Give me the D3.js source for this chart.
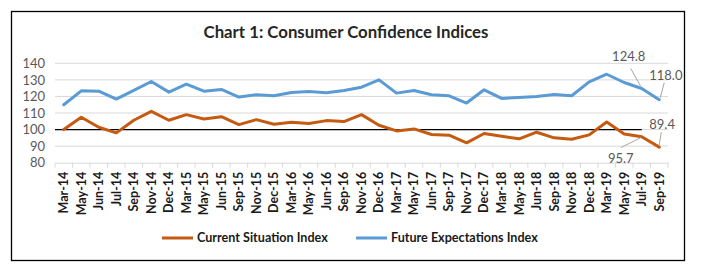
<!DOCTYPE html>
<html>
<head>
<meta charset="utf-8">
<script src="https://cdn.jsdelivr.net/npm/d3@7"></script>
<style>
  body { margin: 0; background: #fff; }
</style>
</head>
<body>
<svg id="chart"></svg>
<script>
var months = ["Mar-14", "May-14", "Jun-14", "Jul-14", "Sep-14", "Nov-14", "Dec-14",
              "Mar-15", "May-15", "Jun-15", "Sep-15", "Nov-15", "Dec-15",
              "Mar-16", "May-16", "Jun-16", "Sep-16", "Nov-16", "Dec-16",
              "Mar-17", "May-17", "Jun-17", "Sep-17", "Nov-17", "Dec-17",
              "Mar-18", "May-18", "Jun-18", "Sep-18", "Nov-18", "Dec-18",
              "Mar-19", "May-19", "Jul-19", "Sep-19"];
var current_index = [100.0, 107.4, 101.4, 98.0, 105.6, 111.0, 105.6,
                     109.0, 106.4, 107.8, 103.0, 106.0, 103.2,
                     104.4, 103.6, 105.4, 104.8, 109.0, 102.6,
                     99.2, 100.4, 97.0, 96.6, 92.0, 97.6,
                     96.0, 94.4, 98.4, 95.0, 94.2, 96.8,
                     104.6, 97.3, 95.7, 89.4];
var future_index = [115.0, 123.4, 123.2, 118.4, 123.6, 129.0, 122.6,
                    127.4, 123.2, 124.2, 119.6, 121.0, 120.4,
                    122.4, 123.0, 122.2, 123.6, 125.6, 130.0,
                    122.0, 123.6, 121.0, 120.4, 116.0, 124.0,
                    118.8, 119.4, 120.0, 121.2, 120.4, 128.8,
                    133.4, 128.4, 124.8, 118.0];
var y_ticks = [80, 90, 100, 110, 120, 130, 140];
var reference_value = 100;
var reference_end = "Jul-19";
var series_names = ["Current Situation Index", "Future Expectations Index"];

var width = 712, height = 273;
var current_color = "#c55a11";
var future_color = "#5b9bd5";
var grid_color = "#d9d9d9";
var text_color = "#595959";
var font = "Lato, 'Open Sans', sans-serif";

var svg = d3.select("#chart")
            .attr("width", width)
            .attr("height", height)
            .attr("font-family", font);

// chart frame
svg.append("rect")
   .attr("x", 11.5).attr("y", 11.5)
   .attr("width", 673).attr("height", 249)
   .attr("fill", "#fff")
   .attr("stroke", "#000")
   .attr("stroke-width", 1.3);

svg.append("text")
   .attr("x", 346).attr("y", 38)
   .attr("text-anchor", "middle")
   .attr("font-size", 16.8)
   .attr("font-weight", "bold")
   .attr("fill", "#262626")
   .text("Chart 1: Consumer Confidence Indices");

var x = d3.scaleBand().domain(months).range([55, 668]);
var y = d3.scaleLinear().domain([80, 140]).range([162.7, 63.3]);
var cx = d => x(d) + x.bandwidth() / 2;

// grid
svg.append("g")
   .selectAll("line")
   .data(y_ticks.slice(1))
   .enter()
   .append("line")
   .attr("x1", 55).attr("x2", 668)
   .attr("y1", d => y(d)).attr("y2", d => y(d))
   .attr("stroke", grid_color)
   .attr("stroke-width", 1);

// y axis labels
var y_axis = svg.append("g")
   .attr("transform", "translate(45,0)")
   .call(d3.axisLeft(y).tickValues(y_ticks).tickSize(0).tickPadding(0));
y_axis.select(".domain").remove();
y_axis.selectAll("text")
   .attr("font-family", font)
   .attr("font-size", 13)
   .attr("fill", text_color);

// x axis
var x_axis = svg.append("g")
   .attr("transform", "translate(0," + y(80) + ")")
   .call(d3.axisBottom(x).tickSize(0).tickPadding(0));
x_axis.select(".domain")
   .attr("stroke", grid_color)
   .attr("stroke-width", 1);
x_axis.selectAll("text")
   .attr("font-family", font)
   .attr("font-size", 12.5)
   .attr("font-weight", "bold")
   .attr("fill", "#1a1a1a")
   .attr("text-anchor", "end")
   .attr("dy", "0.35em")
   .attr("transform", "translate(0,9) rotate(-90)");

// tick marks between categories
svg.append("g")
   .selectAll("line")
   .data(months.concat([null]))
   .enter()
   .append("line")
   .attr("x1", (d, i) => 55 + i * x.bandwidth())
   .attr("x2", (d, i) => 55 + i * x.bandwidth())
   .attr("y1", y(80))
   .attr("y2", y(80) + 5)
   .attr("stroke", grid_color);

// reference line at 100
svg.append("line")
   .attr("x1", 55).attr("x2", cx(reference_end))
   .attr("y1", y(reference_value)).attr("y2", y(reference_value))
   .attr("stroke", "#000")
   .attr("stroke-width", 1.3);

var line = d3.line()
   .x((d, i) => cx(months[i]))
   .y(d => y(d));

svg.append("path")
   .datum(future_index)
   .attr("d", line)
   .attr("fill", "none")
   .attr("stroke", future_color)
   .attr("stroke-width", 3)
   .attr("stroke-linejoin", "round")
   .attr("stroke-linecap", "round");

svg.append("path")
   .datum(current_index)
   .attr("d", line)
   .attr("fill", "none")
   .attr("stroke", current_color)
   .attr("stroke-width", 3)
   .attr("stroke-linejoin", "round")
   .attr("stroke-linecap", "round");

// data labels with leader lines
var last = months.length - 1;
var labels = [
    {i: last - 1, v: future_index[last - 1], dx: -13, dy: -27, lx: -11, ly: -20, ex: -1, ey: -2, anchor: "middle"},
    {i: last, v: future_index[last], dx: -10, dy: -20, lx: 5, ly: -17, ex: 1, ey: -2, anchor: "start"},
    {i: last, v: current_index[last], dx: -10, dy: -18, lx: 2, ly: -15, ex: 0, ey: -2, anchor: "start"},
    {i: last - 1, v: current_index[last - 1], dx: -21, dy: 26, lx: -21, ly: 11, ex: -1, ey: 1, anchor: "middle"}
];

labels.forEach(function (l) {
    var px = cx(months[l.i]), py = y(l.v);
    svg.append("line")
       .attr("x1", px + l.lx).attr("y1", py + l.ly)
       .attr("x2", px + l.ex).attr("y2", py + l.ey)
       .attr("stroke", "#a6a6a6")
       .attr("stroke-width", 1);
    svg.append("text")
       .attr("x", px + l.dx).attr("y", py + l.dy)
       .attr("text-anchor", l.anchor)
       .attr("font-size", 13)
       .attr("fill", text_color)
       .text(l.v.toFixed(1));
});

// legend
var legend = svg.append("g").attr("transform", "translate(162,238)");
var legend_items = [
    {name: series_names[0], color: current_color, x: 0},
    {name: series_names[1], color: future_color, x: 194}
];
legend_items.forEach(function (d) {
    legend.append("line")
          .attr("x1", d.x).attr("x2", d.x + 31)
          .attr("y1", 0).attr("y2", 0)
          .attr("stroke", d.color)
          .attr("stroke-width", 3);
    legend.append("text")
          .attr("x", d.x + 35).attr("y", 0)
          .attr("dy", "0.35em")
          .attr("font-size", 12.6)
          .attr("font-weight", "bold")
          .attr("fill", "#1a1a1a")
          .text(d.name);
});
</script>
</body>
</html>
